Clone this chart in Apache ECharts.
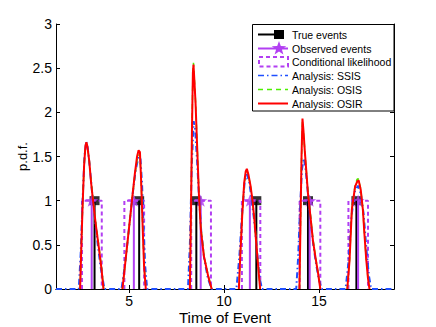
<!DOCTYPE html>
<html>
<head>
<meta charset="utf-8">
<script src="https://cdn.jsdelivr.net/npm/echarts@6/dist/echarts.min.js"></script>
<style>
html, body { margin: 0; padding: 0; background: #fff; }
#chart { width: 436px; height: 327px; }
</style>
</head>
<body>
<div id="chart"></div>
<script>
// event times
var trueTimes = [3.18, 5.53, 8.54, 11.70, 14.42, 16.97];
var obsTimes = [3.03, 5.25, 8.77, 11.36, 14.51, 17.06];
var likeLo = [2.52, 4.75, 8.27, 10.94, 13.98, 16.55];
var likeHi = [3.56, 5.79, 9.31, 11.91, 15.07, 17.58];
var xTicks = [5, 10, 15];

// analysis pdfs, one list of [time, density] per peak
var ssisPeaks = [
    [[2.35, 0], [2.45, 0.4], [2.55, 1.0], [2.65, 1.5], [2.74, 1.67], [2.82, 1.6], [2.92, 1.4], [3.05, 1.1], [3.2, 0.8], [3.35, 0.5], [3.5, 0.25], [3.7, 0]],
    [[4.6, 0], [4.8, 0.3], [5.0, 0.7], [5.2, 1.1], [5.35, 1.35], [5.5, 1.5], [5.6, 1.47], [5.68, 1.2], [5.76, 0.7], [5.85, 0.25], [5.95, 0]],
    [[8.1, 0], [8.2, 0.5], [8.3, 1.4], [8.4, 1.9], [8.48, 1.8], [8.58, 1.45], [8.68, 1.05], [8.8, 0.65], [8.95, 0.35], [9.15, 0.12], [9.35, 0]],
    [[10.65, 0], [10.8, 0.35], [10.95, 0.85], [11.08, 1.2], [11.2, 1.3], [11.32, 1.22], [11.45, 1.02], [11.6, 0.75], [11.75, 0.4], [11.88, 0.12], [12.0, 0]],
    [[13.8, 0], [13.9, 0.35], [14.0, 0.9], [14.1, 1.35], [14.2, 1.48], [14.3, 1.35], [14.42, 1.08], [14.55, 0.8], [14.7, 0.5], [14.85, 0.28], [15.0, 0.1], [15.15, 0]],
    [[16.4, 0], [16.55, 0.3], [16.7, 0.8], [16.88, 1.1], [17.05, 1.17], [17.2, 1.08], [17.35, 0.85], [17.5, 0.45], [17.63, 0.15], [17.75, 0]]
];
var osisPeaks = [
    [[2.42, 0], [2.5, 0.58], [2.56, 1.0], [2.63, 1.4], [2.7, 1.61], [2.75, 1.65], [2.8, 1.62], [2.9, 1.46], [3.0, 1.22], [3.1, 1.02], [3.25, 0.74], [3.4, 0.5], [3.55, 0.24], [3.66, 0]],
    [[4.65, 0], [4.8, 0.3], [4.95, 0.6], [5.15, 1.0], [5.3, 1.28], [5.42, 1.46], [5.5, 1.52], [5.57, 1.5], [5.62, 1.3], [5.67, 1.0], [5.73, 0.62], [5.79, 0.26], [5.88, 0]],
    [[8.2, 0], [8.26, 0.9], [8.31, 1.8], [8.36, 2.46], [8.39, 2.56], [8.44, 2.37], [8.5, 2.12], [8.59, 1.6], [8.68, 1.08], [8.78, 0.7], [8.94, 0.38], [9.17, 0.15], [9.35, 0]],
    [[10.78, 0], [10.86, 0.4], [10.96, 0.84], [11.06, 1.18], [11.14, 1.31], [11.2, 1.34], [11.28, 1.29], [11.4, 1.16], [11.5, 1.0], [11.6, 0.79], [11.72, 0.46], [11.82, 0.21], [11.9, 0]],
    [[13.97, 0], [14.03, 0.78], [14.08, 1.48], [14.13, 1.9], [14.18, 1.79], [14.25, 1.57], [14.42, 1.1], [14.55, 0.84], [14.68, 0.57], [14.82, 0.36], [14.95, 0.19], [15.07, 0]],
    [[16.49, 0], [16.61, 0.33], [16.73, 0.9], [16.9, 1.17], [17.0, 1.24], [17.07, 1.25], [17.2, 1.13], [17.31, 0.9], [17.4, 0.6], [17.49, 0.33], [17.58, 0.12], [17.66, 0]]
];
var osirPeaks = [
    [[2.42, 0], [2.5, 0.6], [2.56, 1.0], [2.63, 1.4], [2.7, 1.62], [2.75, 1.66], [2.8, 1.62], [2.9, 1.45], [3.0, 1.2], [3.1, 1.0], [3.25, 0.72], [3.4, 0.48], [3.55, 0.22], [3.65, 0]],
    [[4.65, 0], [4.8, 0.3], [4.95, 0.6], [5.15, 1.0], [5.3, 1.3], [5.42, 1.5], [5.5, 1.57], [5.57, 1.55], [5.62, 1.3], [5.67, 1.0], [5.73, 0.6], [5.79, 0.25], [5.88, 0]],
    [[8.2, 0], [8.26, 0.9], [8.31, 1.8], [8.36, 2.45], [8.39, 2.54], [8.44, 2.35], [8.5, 2.1], [8.59, 1.57], [8.68, 1.05], [8.78, 0.67], [8.94, 0.37], [9.17, 0.14], [9.35, 0]],
    [[10.78, 0], [10.86, 0.4], [10.96, 0.85], [11.06, 1.2], [11.14, 1.33], [11.2, 1.36], [11.28, 1.3], [11.4, 1.16], [11.5, 1.0], [11.6, 0.78], [11.72, 0.45], [11.82, 0.2], [11.9, 0]],
    [[13.97, 0], [14.03, 0.8], [14.08, 1.5], [14.13, 1.93], [14.18, 1.8], [14.25, 1.57], [14.42, 1.08], [14.55, 0.82], [14.68, 0.55], [14.82, 0.35], [14.95, 0.18], [15.07, 0]],
    [[16.49, 0], [16.61, 0.33], [16.73, 0.9], [16.9, 1.16], [17.02, 1.22], [17.09, 1.23], [17.2, 1.12], [17.31, 0.9], [17.4, 0.6], [17.49, 0.33], [17.58, 0.12], [17.66, 0]]
];

var xMin = 1.15, xMax = 18.95;
var purple = '#b23ff2';
var fontFam = 'Liberation Sans, Arial, sans-serif';
var star = 'path://M0,-10L2.35,-3.24L9.51,-3.09L3.8,1.24L5.88,8.09L0,4L-5.88,8.09L-3.8,1.24L-9.51,-3.09L-2.35,-3.24Z';

function stems(times) {
    var d = [];
    times.forEach(function (t) { d.push([t, 0], [t, 1], [t, null]); });
    return d;
}
function boxes() {
    var d = [];
    for (var i = 0; i < likeLo.length; i++) {
        d.push([likeLo[i], 0], [likeLo[i], 1], [likeHi[i], 1], [likeHi[i], 0], [likeHi[i], null]);
    }
    return d;
}
function broken(peaks) {
    var d = [];
    peaks.forEach(function (p) { d = d.concat(p); d.push([p[p.length - 1][0], null]); });
    return d;
}
function withBase(peaks) {
    var d = [[xMin, 0]];
    peaks.forEach(function (p) { d = d.concat(p); });
    d.push([xMax, 0]);
    return d;
}

function lineSeries(data, color, width, dash) {
    return {
        type: 'line', data: data, symbol: 'none', showSymbol: false, connectNulls: false,
        lineStyle: { color: color, width: width, type: dash || 'solid' },
        itemStyle: { color: color }, animation: false, silent: true
    };
}

var axisCommon = {
    axisLine: { lineStyle: { color: '#000', width: 1 } },
    splitLine: { show: false },
    axisTick: { inside: true, length: 4, lineStyle: { color: '#000' } }
};

var chart = echarts.init(document.getElementById('chart'), null, { renderer: 'svg' });
var option = {
    backgroundColor: '#fff',
    animation: false,
    grid: { left: 56, top: 24, right: 42, bottom: 38, outerBoundsMode: 'none' },
    xAxis: [
        Object.assign({}, axisCommon, {
            type: 'value', min: xMin, max: xMax, position: 'bottom',
            axisTick: { inside: true, length: 4, lineStyle: { color: '#000' }, customValues: xTicks },
            axisLabel: { customValues: xTicks, color: '#000', fontSize: 14, fontFamily: fontFam, margin: 5 },
            name: 'Time of Event', nameLocation: 'middle', nameGap: 21, nameMoveOverlap: false,
            nameTextStyle: { color: '#000', fontSize: 15, fontFamily: fontFam }
        }),
        Object.assign({}, axisCommon, {
            type: 'value', min: xMin, max: xMax, position: 'top',
            axisTick: { inside: true, length: 4, lineStyle: { color: '#000' }, customValues: xTicks },
            axisLabel: { show: false }
        })
    ],
    yAxis: [
        Object.assign({}, axisCommon, {
            type: 'value', min: 0, max: 3, interval: 0.5, position: 'left',
            axisLabel: { color: '#000', fontSize: 14, fontFamily: fontFam, margin: 4 },
            name: 'p.d.f.', nameLocation: 'middle', nameGap: 27, nameMoveOverlap: false,
            nameTextStyle: { color: '#000', fontSize: 13, fontFamily: fontFam }
        }),
        Object.assign({}, axisCommon, {
            type: 'value', min: 0, max: 3, interval: 0.5, position: 'right',
            axisLabel: { show: false }
        })
    ],
    series: [
        lineSeries(stems(trueTimes), '#000', 2),
        {
            type: 'scatter', data: trueTimes.map(function (t) { return [t, 1]; }),
            symbol: 'rect', symbolSize: [10, 9], itemStyle: { color: '#000' }, silent: true
        },
        lineSeries(stems(obsTimes), purple, 2),
        {
            type: 'scatter', data: obsTimes.map(function (t) { return [t, 1]; }),
            symbol: star, symbolSize: 13, symbolKeepAspect: true,
            itemStyle: { color: purple }, silent: true
        },
        lineSeries(boxes(), purple, 2, [4, 3]),
        lineSeries(withBase(ssisPeaks), '#1f4fff', 2, [6, 3, 1.5, 3]),
        lineSeries(broken(osisPeaks), '#4cf000', 1.5, [5, 4]),
        lineSeries(broken(osirPeaks), '#ff0000', 2)
    ],
    graphic: [
        { type: 'rect', z: 100, shape: { x: 252.5, y: 24.5, width: 141.5, height: 86.5 }, style: { fill: '#fff', stroke: '#000', lineWidth: 1 } },
        { type: 'line', z: 101, shape: { x1: 258, y1: 34.5, x2: 279, y2: 34.5 }, style: { stroke: '#000', lineWidth: 2 } },
        { type: 'rect', z: 101, shape: { x: 274, y: 30, width: 10, height: 9 }, style: { fill: '#000' } },
        { type: 'line', z: 101, shape: { x1: 258, y1: 48.5, x2: 288, y2: 48.5 }, style: { stroke: purple, lineWidth: 2 } },
        { type: 'polygon', z: 101, shape: { points: [[279, 41], [280.8, 46.1], [286.2, 46.2], [281.9, 49.5], [283.4, 54.6], [279, 51.5], [274.6, 54.6], [276.1, 49.5], [271.8, 46.2], [277.2, 46.1]] }, style: { fill: purple } },
        { type: 'rect', z: 101, shape: { x: 259, y: 57, width: 29, height: 9.5 }, style: { fill: 'none', stroke: purple, lineWidth: 2, lineDash: [4, 3] } },
        { type: 'line', z: 101, shape: { x1: 258, y1: 75.5, x2: 288, y2: 75.5 }, style: { stroke: '#1f4fff', lineWidth: 1.5, lineDash: [6, 3, 1.5, 3] } },
        { type: 'line', z: 101, shape: { x1: 258, y1: 89.5, x2: 288, y2: 89.5 }, style: { stroke: '#4cf000', lineWidth: 1.5, lineDash: [5, 4] } },
        { type: 'line', z: 101, shape: { x1: 258, y1: 103.5, x2: 288, y2: 103.5 }, style: { stroke: '#ff0000', lineWidth: 2 } },
        { type: 'text', z: 101, x: 292, y: 34.5, style: { text: 'True events', fontSize: 10.5, fontFamily: fontFam, fill: '#000', verticalAlign: 'middle' } },
        { type: 'text', z: 101, x: 292, y: 48.5, style: { text: 'Observed events', fontSize: 10.5, fontFamily: fontFam, fill: '#000', verticalAlign: 'middle' } },
        { type: 'text', z: 101, x: 292, y: 62, style: { text: 'Conditional likelihood', fontSize: 10.5, fontFamily: fontFam, fill: '#000', verticalAlign: 'middle' } },
        { type: 'text', z: 101, x: 292, y: 75.5, style: { text: 'Analysis: SSIS', fontSize: 10.5, fontFamily: fontFam, fill: '#000', verticalAlign: 'middle' } },
        { type: 'text', z: 101, x: 292, y: 89.5, style: { text: 'Analysis: OSIS', fontSize: 10.5, fontFamily: fontFam, fill: '#000', verticalAlign: 'middle' } },
        { type: 'text', z: 101, x: 292, y: 103.5, style: { text: 'Analysis: OSIR', fontSize: 10.5, fontFamily: fontFam, fill: '#000', verticalAlign: 'middle' } }
    ]
};
chart.setOption(option);
</script>
</body>
</html>
